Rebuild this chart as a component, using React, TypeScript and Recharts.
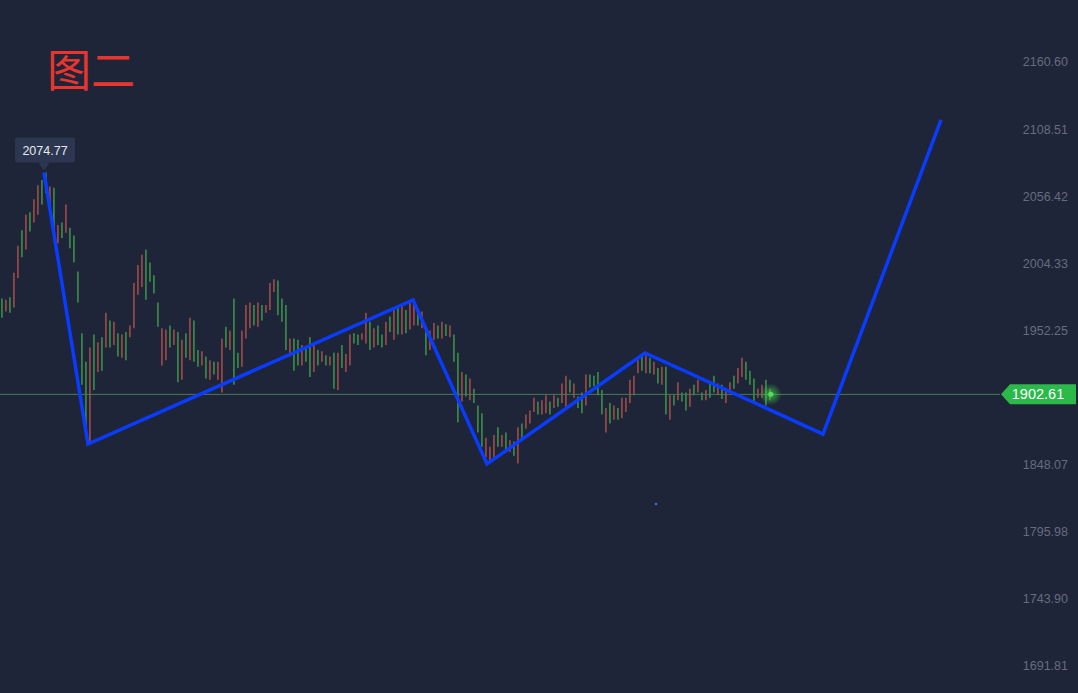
import React from "react";
import {
  ComposedChart,
  Bar,
  Line,
  XAxis,
  YAxis,
  ReferenceLine,
  ReferenceDot,
  Cell,
} from "recharts";

// candle highs / lows, one per bar, left to right
const highs = [
  1977, 1976, 1978, 1997, 2018, 2030, 2042, 2044, 2054, 2065,
  2069, 2074.77, 2064, 2063, 2034, 2036, 2050, 2032, 2026, 1998,
  1950, 1928, 1939, 1949, 1943, 1947, 1966, 1960, 1959, 1950,
  1949, 1951, 1956, 1989, 2003, 2011, 2015, 2005, 1995, 1974,
  1954, 1953, 1956, 1953, 1951, 1945, 1950, 1962, 1960, 1937,
  1936, 1932, 1929, 1928, 1928, 1946, 1955, 1952, 1977, 1935,
  1952, 1972, 1974, 1972, 1974, 1972, 1972, 1989, 1992, 1991,
  1977, 1972, 1946, 1946, 1945, 1941, 1939, 1947, 1942, 1937,
  1936, 1933, 1932, 1935, 1935, 1941, 1934, 1949, 1950, 1949,
  1950, 1966, 1959, 1954, 1956, 1949, 1959, 1963, 1968, 1970,
  1972, 1968, 1974, 1976, 1968, 1967, 1955, 1952, 1958, 1956,
  1959, 1957, 1956, 1949, 1935, 1920, 1918, 1915, 1907, 1894,
  1888, 1869, 1862, 1871, 1877, 1871, 1873, 1867, 1866, 1877,
  1880, 1887, 1890, 1900, 1897, 1898, 1902, 1897, 1902, 1900,
  1911, 1917, 1914, 1911, 1901, 1904, 1918, 1918, 1917, 1920,
  1906, 1892, 1896, 1894, 1892, 1900, 1900, 1914, 1917, 1929,
  1933, 1933, 1931, 1928, 1923, 1924, 1924, 1902, 1902, 1912,
  1904, 1904, 1907, 1910, 1914, 1904, 1906, 1911, 1917, 1911,
  1910, 1907, 1912, 1917, 1923, 1931, 1928, 1921, 1915, 1907,
  1910, 1914, 1907,
];

const lows = [
  1962, 1967, 1966, 1970, 1993, 2009, 2015, 2029, 2036, 2042,
  2050, 2059, 2042, 2022, 2020, 2024, 2028, 2016, 2005, 1974,
  1910, 1869, 1864, 1906, 1920, 1921, 1939, 1939, 1941, 1932,
  1931, 1929, 1947, 1954, 1980, 1986, 1976, 1990, 1981, 1955,
  1925, 1929, 1939, 1941, 1912, 1914, 1931, 1929, 1928, 1924,
  1925, 1915, 1914, 1918, 1914, 1904, 1939, 1937, 1910, 1923,
  1924, 1946, 1954, 1956, 1955, 1960, 1966, 1968, 1982, 1964,
  1959, 1937, 1932, 1921, 1925, 1925, 1928, 1916, 1920, 1925,
  1928, 1925, 1925, 1907, 1906, 1923, 1920, 1925, 1942, 1941,
  1945, 1942, 1937, 1939, 1941, 1939, 1941, 1951, 1945, 1949,
  1949, 1950, 1953, 1956, 1956, 1954, 1933, 1937, 1945, 1946,
  1946, 1948, 1947, 1928, 1881, 1897, 1901, 1898, 1896, 1873,
  1862, 1854, 1850, 1852, 1862, 1862, 1859, 1858, 1855, 1849,
  1869, 1876, 1880, 1889, 1887, 1887, 1888, 1887, 1892, 1893,
  1896, 1893, 1904, 1900, 1892, 1888, 1894, 1908, 1909, 1902,
  1887, 1873, 1880, 1883, 1883, 1884, 1889, 1896, 1902, 1919,
  1921, 1919, 1919, 1918, 1911, 1910, 1887, 1883, 1894, 1898,
  1897, 1890, 1893, 1902, 1904, 1898, 1898, 1900, 1904, 1902,
  1899, 1896, 1904, 1907, 1911, 1916, 1914, 1910, 1896, 1900,
  1900, 1894, 1898,
];

// g = green candle, r = red candle
const sides = (
  "grgrrgrgrr" + "ggrgrgrggg" + "ggrgrgrgrg" + "rgrrrrgggg" + "rrgrgrgrgg" +
  "rgrgrrgrgg" + "rrrgrgrrrg" + "ggrggrggrg" + "rgrgrgrrgg" + "rrgrggrgrg" +
  "rgrrgrgrrg" + "rgrggrgrgg" + "grrrgrgrgr" + "grrrgrrgrg" + "rrgrggrggg" +
  "grgrgrrrrr" + "grgrgrgrgr" + "ggrgrgrggr" + "grrgrrgggr" + "rgr"
).split("");

// blue zigzag pivots (bar index, price)
const zigIndex = [10.5, 21.5, 102.75, 121.25, 160.75, 205.25, 234.75];
const zigPrice = [2074.77, 1864.1, 1975.9, 1848.6, 1934.7, 1871.8, 2115.6];

const yTicks = [2160.6, 2108.51, 2056.42, 2004.33, 1952.25, 1848.07, 1795.98, 1743.9, 1691.81];
const lastPrice = 1902.61;
const peakPrice = 2074.77;

const GREEN = "#4ee05a";
const RED = "#ff6a58";
const BG = "#1e2538";
const FONT = "'Liberation Sans', Arial, Helvetica, sans-serif";

const candles = highs.map((h, i) => ({ i, range: [lows[i], h] }));
const zigzag = zigIndex.map((x, k) => ({ i: x, p: zigPrice[k] }));

const PriceTick = (props: any) => {
  const { y, payload } = props;
  return (
    <text x={1068} y={y} dy={4.5} textAnchor="end" fill="#646c82" fontSize={12.5} fontFamily={FONT}>
      {Number(payload.value).toFixed(2)}
    </text>
  );
};

const PriceTag = (props: any) => {
  const vb = props.viewBox || {};
  const y = vb.y;
  const x0 = vb.x + vb.width + 1;
  return (
    <g>
      <polygon
        points={`${x0},${y} ${x0 + 9},${y - 10} 1076,${y - 10} 1076,${y + 10} ${x0 + 9},${y + 10}`}
        fill="#2bb94a"
      />
      <text x={1038} y={y + 5} textAnchor="middle" fill="#ffffff" fontSize={14.5} fontFamily={FONT}>
        {lastPrice.toFixed(2)}
      </text>
    </g>
  );
};

const PeakTag = (props: any) => {
  const { cx, cy } = props;
  const top = cy - 35;
  return (
    <g>
      <rect x={cx - 29} y={top} width={60} height={25} rx={2} fill="#2c3650" />
      <polygon points={`${cx - 6},${top + 25} ${cx + 6},${top + 25} ${cx},${cy - 2}`} fill="#2c3650" />
      <text x={cx + 1} y={top + 17} textAnchor="middle" fill="#e6e8ee" fontSize={12.5} fontFamily={FONT}>
        {peakPrice.toFixed(2)}
      </text>
    </g>
  );
};

const GlowDot = (props: any) => {
  const { cx, cy } = props;
  return (
    <g>
      <defs>
        <radialGradient id="glow">
          <stop offset="0%" stopColor="#3ee24a" stopOpacity={0.7} />
          <stop offset="100%" stopColor="#3ee24a" stopOpacity={0} />
        </radialGradient>
      </defs>
      <circle cx={cx} cy={cy} r={11} fill="url(#glow)" />
      <circle cx={cx} cy={cy} r={2.5} fill="#4be454" />
    </g>
  );
};

export default function App() {
  return (
    <div style={{ position: "absolute", left: 0, top: 0, width: 1078, height: 693, background: BG, overflow: "hidden" }}>
      <style>{`body{margin:0;background:${BG};}`}</style>
      <ComposedChart
        width={1078}
        height={693}
        data={candles}
        margin={{ top: 0, right: 0, bottom: 0, left: 0 }}
      >
        <XAxis type="number" dataKey="i" domain={[-0.5, 249.5]} hide allowDataOverflow />
        <YAxis
          orientation="right"
          width={78}
          domain={[1670.81, 2208.72]}
          ticks={yTicks}
          tick={<PriceTick />}
          axisLine={false}
          tickLine={false}
          allowDataOverflow
        />
        <Bar dataKey="range" barSize={2} isAnimationActive={false}>
          {candles.map((c, k) => (
            <Cell key={k} fill={sides[k] === "g" ? GREEN : RED} />
          ))}
        </Bar>
        <ReferenceLine y={lastPrice} stroke="#4a7a5c" strokeWidth={1} label={<PriceTag />} />
        <Line
          data={zigzag}
          dataKey="p"
          stroke="#0a3cff"
          strokeWidth={3.5}
          dot={false}
          activeDot={false}
          isAnimationActive={false}
        />
        <ReferenceDot x={zigIndex[0]} y={peakPrice} r={0} fill="none" stroke="none" shape={<PeakTag />} />
        <ReferenceDot x={192.2} y={lastPrice} r={0} fill="none" stroke="none" shape={<GlowDot />} />
        <ReferenceDot x={163.5} y={1817.5} r={1.2} fill="#3d6ff5" stroke="none" />
      </ComposedChart>
      <div
        style={{
          position: "absolute",
          left: 47,
          top: 38,
          fontSize: 44,
          lineHeight: "60px",
          color: "#e8362f",
          fontFamily: "'Noto Sans CJK SC', sans-serif",
        }}
      >
        图二
      </div>
    </div>
  );
}
